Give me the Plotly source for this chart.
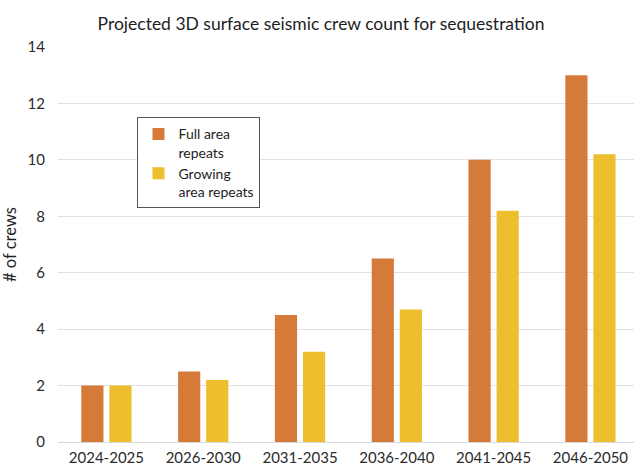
import plotly.graph_objects as go

# Projected crew counts per period
periods = ["2024-2025", "2026-2030", "2031-2035", "2036-2040", "2041-2045", "2046-2050"]
full_area = [2, 2.5, 4.5, 6.5, 10, 13]
growing_area = [2, 2.2, 3.2, 4.7, 8.2, 10.2]
y_ticks = [0, 2, 4, 6, 8, 10, 12, 14]

ORANGE = "#D57A39"
YELLOW = "#EDBE2D"
FONT = "Lato, 'Open Sans', sans-serif"

fig = go.Figure()
fig.add_trace(go.Bar(x=periods, y=full_area, name="Full area<br>repeats",
                     marker=dict(color=ORANGE, line=dict(width=0))))
fig.add_trace(go.Bar(x=periods, y=growing_area, name="Growing<br>area repeats",
                     marker=dict(color=YELLOW, line=dict(width=0))))

fig.update_layout(
    width=634, height=470,
    margin=dict(l=58, r=0, t=47, b=28, autoexpand=False),
    paper_bgcolor="white", plot_bgcolor="white",
    font=dict(family=FONT, size=15, color="#2b2b2b"),
    title=dict(text="Projected 3D surface seismic crew count for sequestration",
               x=321 / 634, xanchor="center", y=1 - 24 / 470, yanchor="middle",
               font=dict(family=FONT, size=17.5, color="#1e1e1e")),
    barmode="group", bargap=0.42, bargroupgap=0.21,
    showlegend=True,
    legend=dict(x=0.138, y=0.822, xanchor="left", yanchor="top",
                bgcolor="white", bordercolor="#555555", borderwidth=1,
                font=dict(family=FONT, size=14, color="#1e1e1e"),
                valign="top", tracegroupgap=0, itemwidth=30),
    xaxis=dict(range=[-0.5, 5.45], showgrid=False, zeroline=False,
               showline=False, ticks="", ticklabelstandoff=5,
               tickfont=dict(size=15, color="#2b2b2b")),
    yaxis=dict(range=[0, 14], tickvals=y_ticks, showgrid=True,
               gridcolor="#E2E2E2", gridwidth=1, zeroline=True,
               zerolinecolor="#D9D9D9", zerolinewidth=1, showline=False,
               ticks="", ticklabelstandoff=12,
               tickfont=dict(size=15, color="#2b2b2b"),
               title=dict(text="# of crews", standoff=6,
                          font=dict(family=FONT, size=16.5, color="#1e1e1e"))),
)

fig.write_html("out.html")
